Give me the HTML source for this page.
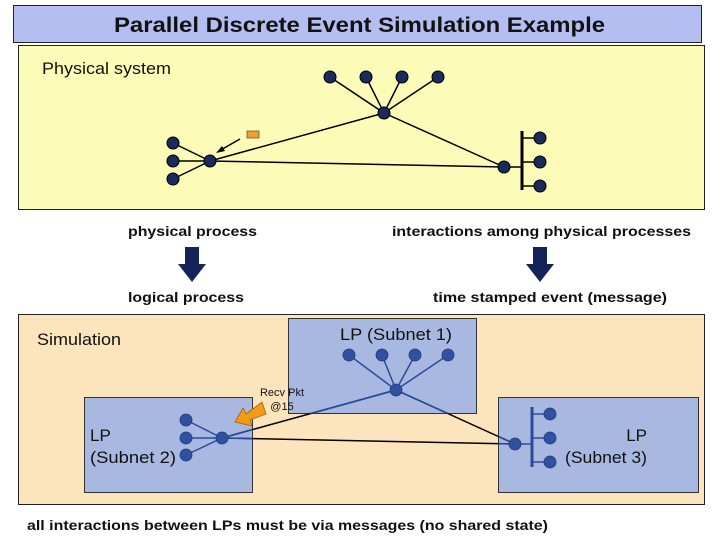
<!DOCTYPE html>
<html><head><style>
body{margin:0;width:720px;height:540px;background:#fff;overflow:hidden;font-family:"Liberation Sans",Arial,sans-serif}
</style></head><body>
<svg width="720" height="540" xmlns="http://www.w3.org/2000/svg" font-family="Liberation Sans, Arial, sans-serif">
<defs>
<clipPath id="boxes">
<rect x="288.5" y="318.5" width="188" height="95"/>
<rect x="84.5" y="397.5" width="168" height="95"/>
<rect x="498.5" y="397.5" width="200" height="95"/>
</clipPath>
</defs>
<rect x="13.5" y="5.5" width="688" height="37" fill="#b4bef0" stroke="#222" stroke-width="1"/>
<text x="114" y="32" font-size="21" font-weight="bold" fill="#111" textLength="491" lengthAdjust="spacingAndGlyphs">Parallel Discrete Event Simulation Example</text>
<rect x="18.5" y="45.5" width="686" height="164" fill="#fcfcb8" stroke="#222" stroke-width="1"/>
<text x="42" y="74" font-size="17" fill="#111" textLength="129" lengthAdjust="spacingAndGlyphs">Physical system</text>
<g stroke="#000" stroke-width="1.5" fill="none">
<line x1="330" y1="77" x2="384" y2="113"/><line x1="366" y1="77" x2="384" y2="113"/><line x1="402" y1="77" x2="384" y2="113"/><line x1="438" y1="77" x2="384" y2="113"/>
<line x1="384" y1="113" x2="210" y2="161"/><line x1="384" y1="113" x2="504" y2="167"/><line x1="210" y1="161" x2="504" y2="167"/>
<line x1="173" y1="143" x2="210" y2="161"/><line x1="173" y1="161" x2="210" y2="161"/><line x1="173" y1="179" x2="210" y2="161"/>
<line x1="504" y1="167" x2="522" y2="167"/><line x1="522" y1="138" x2="540" y2="138"/><line x1="522" y1="162" x2="540" y2="162"/><line x1="522" y1="186" x2="540" y2="186"/>
<line x1="240" y1="139" x2="219" y2="151"/>
</g>
<line x1="522" y1="131" x2="522" y2="190" stroke="#000" stroke-width="3"/>
<polygon points="216,153 222,146 225,151" fill="#000"/>
<rect x="247" y="131" width="12" height="7" fill="#f0a030" stroke="#654" stroke-width="0.8"/>
<g fill="#1a2a5a" stroke="#000" stroke-width="1">
<circle cx="330" cy="77" r="6"/><circle cx="366" cy="77" r="6"/><circle cx="402" cy="77" r="6"/><circle cx="438" cy="77" r="6"/><circle cx="384" cy="113" r="6"/>
<circle cx="173" cy="143" r="6"/><circle cx="173" cy="161" r="6"/><circle cx="173" cy="179" r="6"/><circle cx="210" cy="161" r="6"/>
<circle cx="504" cy="167" r="6"/><circle cx="540" cy="138" r="6"/><circle cx="540" cy="162" r="6"/><circle cx="540" cy="186" r="6"/>
</g>
<g font-size="14" font-weight="bold" fill="#111">
<text x="128" y="236" textLength="129" lengthAdjust="spacingAndGlyphs">physical process</text>
<text x="392" y="236" textLength="299" lengthAdjust="spacingAndGlyphs">interactions among physical processes</text>
<text x="128" y="302" textLength="116" lengthAdjust="spacingAndGlyphs">logical process</text>
<text x="433" y="302" textLength="234" lengthAdjust="spacingAndGlyphs">time stamped event (message)</text>
</g>
<polygon points="185,247 199,247 199,264 206,264 192,282 178,264 185,264" fill="#14245a"/>
<polygon points="533,247 547,247 547,264 554,264 540,282 526,264 533,264" fill="#14245a"/>
<rect x="18.5" y="314.5" width="686" height="190" fill="#fce4bc" stroke="#222" stroke-width="1"/>
<text x="37" y="345" font-size="17" fill="#111" textLength="84" lengthAdjust="spacingAndGlyphs">Simulation</text>
<rect x="288.5" y="318.5" width="188" height="95" fill="#a8b8e0" stroke="#333"/>
<rect x="84.5" y="397.5" width="168" height="95" fill="#a8b8e0" stroke="#333"/>
<rect x="498.5" y="397.5" width="200" height="95" fill="#a8b8e0" stroke="#333"/>
<g font-size="17" fill="#111">
<text x="340" y="340" textLength="112" lengthAdjust="spacingAndGlyphs">LP (Subnet 1)</text>
<text x="90" y="441">LP</text><text x="90" y="463" textLength="86" lengthAdjust="spacingAndGlyphs">(Subnet 2)</text>
<text x="647" y="441" text-anchor="end">LP</text><text x="565" y="463" textLength="82" lengthAdjust="spacingAndGlyphs">(Subnet 3)</text>
</g>
<g stroke="#000" stroke-width="1.5">
<line x1="222" y1="438" x2="396" y2="390"/><line x1="396" y1="390" x2="515" y2="444"/><line x1="222" y1="438" x2="515" y2="444"/>
</g>
<g stroke="#2a4a9a" stroke-width="1.6" clip-path="url(#boxes)">
<line x1="222" y1="438" x2="396" y2="390"/><line x1="396" y1="390" x2="515" y2="444"/><line x1="222" y1="438" x2="515" y2="444"/>
</g>
<g stroke="#2a4a9a" stroke-width="1.5">
<line x1="349" y1="355" x2="396" y2="390"/><line x1="382" y1="355" x2="396" y2="390"/><line x1="415" y1="355" x2="396" y2="390"/><line x1="448" y1="355" x2="396" y2="390"/>
<line x1="186" y1="420" x2="222" y2="438"/><line x1="186" y1="438" x2="222" y2="438"/><line x1="186" y1="455" x2="222" y2="438"/>
<line x1="515" y1="444" x2="532" y2="444"/><line x1="532" y1="414" x2="550" y2="414"/><line x1="532" y1="438" x2="550" y2="438"/><line x1="532" y1="462" x2="550" y2="462"/>
</g>
<line x1="532" y1="407" x2="532" y2="467" stroke="#2a4a9a" stroke-width="3"/>
<g fill="#3050a0" stroke="#23397a" stroke-width="0.8">
<circle cx="349" cy="355" r="6"/><circle cx="382" cy="355" r="6"/><circle cx="415" cy="355" r="6"/><circle cx="448" cy="355" r="6"/><circle cx="396" cy="390" r="6"/>
<circle cx="186" cy="420" r="6"/><circle cx="186" cy="438" r="6"/><circle cx="186" cy="455" r="6"/><circle cx="222" cy="438" r="6"/>
<circle cx="515" cy="444" r="6"/><circle cx="550" cy="414" r="6"/><circle cx="550" cy="438" r="6"/><circle cx="550" cy="462" r="6"/>
</g>
<polygon points="262,402 266,414 250,420 252,426 235,422 243,408 246,414" fill="#f59a14" stroke="#a06010" stroke-width="0.8"/>
<text x="282" y="396" font-size="11" text-anchor="middle" fill="#111">Recv Pkt</text>
<text x="282" y="410" font-size="11" text-anchor="middle" fill="#111">@15</text>
<text x="27" y="530" font-size="14" font-weight="bold" fill="#111" textLength="521" lengthAdjust="spacingAndGlyphs">all interactions between LPs must be via messages (no shared state)</text>
</svg>
</body></html>
